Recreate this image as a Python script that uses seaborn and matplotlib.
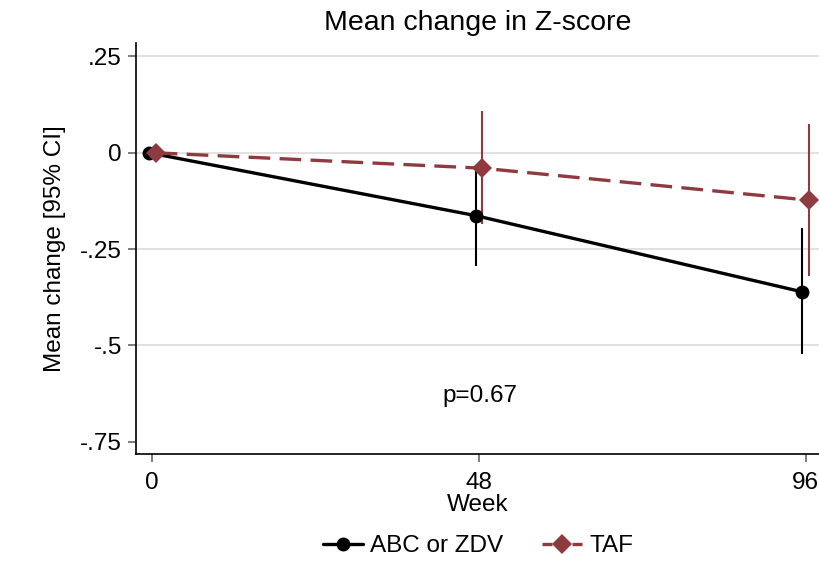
import numpy as np
import pandas as pd
import matplotlib
matplotlib.use("Agg")
import matplotlib.pyplot as plt
import seaborn as sns
from matplotlib.lines import Line2D

# ---- data ----
weeks = [0, 48, 96]
groups = ["ABC or ZDV", "TAF"]
abc_mean = [0.0, -0.163, -0.361]
abc_lo = [0.0, -0.293, -0.523]
abc_hi = [0.0, -0.040, -0.196]
taf_mean = [0.0, -0.040, -0.123]
taf_lo = [0.0, -0.185, -0.319]
taf_hi = [0.0, 0.108, 0.075]
yticks = [0.25, 0.0, -0.25, -0.5, -0.75]
ytick_labels = [".25", "0", "-.25", "-.5", "-.75"]
xticks = [0, 48, 96]
p_text = "p=0.67"

# ---- style ----
sns.set_theme(style="white")
plt.rcParams['font.family'] = ['Liberation Sans', 'DejaVu Sans']
plt.rcParams['text.color'] = 'black'
plt.rcParams['axes.labelcolor'] = 'black'
plt.rcParams['xtick.color'] = 'black'
plt.rcParams['ytick.color'] = 'black'

colors = {"ABC or ZDV": "#000000", "TAF": "#8f3a3f"}
dodge = {"ABC or ZDV": -0.5, "TAF": 0.5}
markers = {"ABC or ZDV": "o", "TAF": "D"}
dashes = {"ABC or ZDV": "", "TAF": (6.5, 2.8)}

rows = []
for g, m, lo, hi in [("ABC or ZDV", abc_mean, abc_lo, abc_hi), ("TAF", taf_mean, taf_lo, taf_hi)]:
    for w, mv, l, h in zip(weeks, m, lo, hi):
        rows.append({"group": g, "week": w, "xpos": w + dodge[g], "mean": mv, "lo": l, "hi": h})
df = pd.DataFrame(rows)

fig = plt.figure(figsize=(8.2, 5.62), dpi=100)
ax = fig.add_axes([135.7 / 820, 1 - 453.7 / 562, 1 - 135.7 / 820, (453.7 - 43) / 562])

# horizontal gridlines
for yv in yticks[:-1]:
    ax.axhline(yv, color="#dcdcdc", lw=1.2, zorder=0)

# error bars
for g in groups:
    sub = df[(df.group == g) & (df.week > 0)]
    ax.vlines(sub["xpos"], sub["lo"], sub["hi"], color=colors[g], lw=1.5, zorder=2)

sns.lineplot(data=df, x="xpos", y="mean", hue="group", style="group",
             palette=colors, markers=markers, dashes=dashes,
             hue_order=groups, style_order=groups,
             linewidth=2.4, markersize=9, markeredgewidth=0,
             legend=False, ax=ax, zorder=3, errorbar=None, sort=True)
for line in ax.get_lines():
    if line.get_marker() == "D":
        line.set_markersize(10)
    elif line.get_marker() == "o":
        line.set_markersize(10)

ax.set_xlim(-2.44, 98.1)
ax.set_ylim(-0.781, 0.285)
ax.set_xticks(xticks)
ax.set_xticklabels([str(x) for x in xticks], fontsize=17.5)
ax.set_yticks(yticks)
ax.set_yticklabels(ytick_labels, fontsize=17.5)
ax.tick_params(axis="both", which="both", direction="out", length=6, width=1.2,
               color="#666666", labelcolor="black", left=True, bottom=True)
ax.tick_params(axis="x", pad=7)
ax.tick_params(axis="y", pad=4)

for side in ["top", "right"]:
    ax.spines[side].set_visible(False)
for side in ["left", "bottom"]:
    ax.spines[side].set_color("black")
    ax.spines[side].set_linewidth(1.2)

ax.set_xlabel("Week", fontsize=17.5, labelpad=0)
ax.set_ylabel("Mean change [95% CI]", fontsize=17.5, labelpad=10)
ax.set_title("Mean change in Z-score", fontsize=20.5, pad=9)

ax.text(48.2, -0.63, p_text, fontsize=17.5, ha="center", va="center")

handles = [Line2D([0], [0], color=colors[g], lw=2.4, marker=markers[g],
                  markersize=10, markeredgewidth=0,
                  linestyle="-" if g == "ABC or ZDV" else (0, (3, 1.5)))
           for g in groups]
fig.legend(handles, groups, loc="center", bbox_to_anchor=(478 / 820, 1 - 546 / 562),
           ncol=2, frameon=False, fontsize=17.5, handlelength=1.65, columnspacing=1.6,
           handletextpad=0.3)

fig.savefig("out.png", dpi=100)
